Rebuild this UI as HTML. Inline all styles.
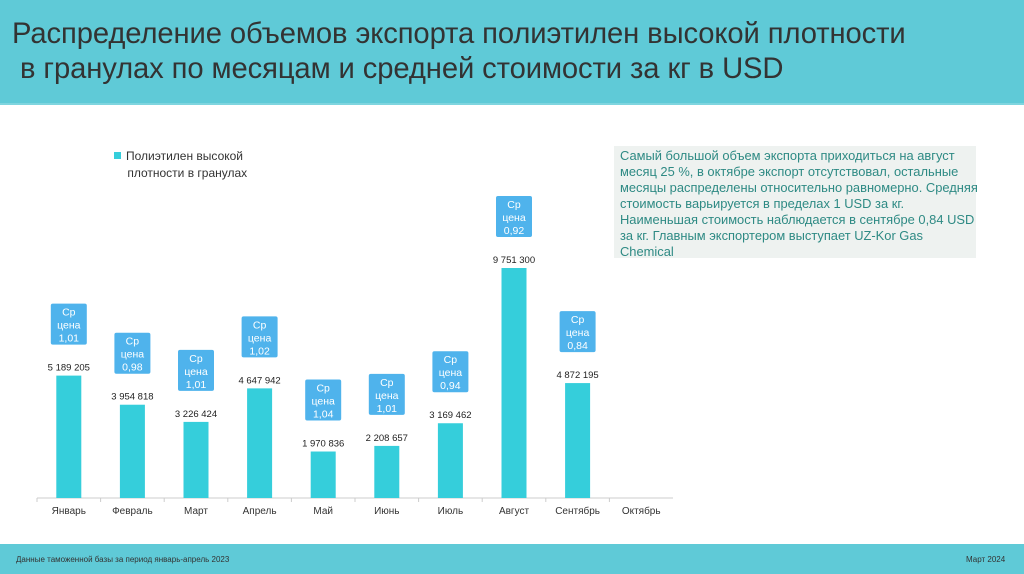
<!DOCTYPE html>
<html><head><meta charset="utf-8"><style>
body{margin:0;width:1024px;height:574px;position:relative;background:#fff;font-family:"Liberation Sans",sans-serif;overflow:hidden}
#hdr{position:absolute;left:0;top:0;width:1024px;height:103px;background:#5fcad7;border-bottom:2px solid #7fd5df}
#title{position:absolute;left:12px;top:17px;font-size:29.2px;line-height:35px;color:#333;letter-spacing:-0.1px}
#ftr{position:absolute;left:0;top:544px;width:1024px;height:30px;background:#5fcad7}
.ft{position:absolute;top:11px;font-size:8px;color:#333}
#notebg{position:absolute;left:614px;top:146px;width:362px;height:112px;background:#eef2f0}
#note{position:absolute;left:620px;top:148px;white-space:nowrap;color:#2e8a84;font-size:12.9px;line-height:16px}
#legend{position:absolute;left:114px;top:148px;font-size:12px;line-height:17px;color:#333}
#legend span{display:inline-block;width:7px;height:7px;background:#35cedb;margin-right:5px;vertical-align:1px}
</style></head><body>
<div id="hdr"><div id="title">Распределение объемов экспорта полиэтилен высокой плотности<br>&nbsp;в гранулах по месяцам и средней стоимости за кг в USD</div></div>
<div id="legend"><span></span>Полиэтилен высокой<br>&nbsp;&nbsp;&nbsp;&nbsp;плотности в гранулах</div>
<div id="notebg"></div>
<div id="note">Самый большой объем экспорта приходиться на август<br>месяц 25 %, в октябре экспорт отсутствовал, остальные<br>месяцы распределены относительно равномерно. Средняя<br>стоимость варьируется в пределах 1 USD за кг.<br>Наименьшая стоимость наблюдается в сентябре 0,84 USD<br>за кг. Главным экспортером выступает UZ-Kor Gas<br>Chemical</div>
<svg id="chart" width="1024" height="574" style="position:absolute;left:0;top:0"></svg>
<div id="ftr"><div class="ft" style="left:16px">Данные таможенной базы за период январь-апрель 2023</div><div class="ft" style="left:966px">Март 2024</div></div>
<script>
const categories=["Январь","Февраль","Март","Апрель","Май","Июнь","Июль","Август","Сентябрь","Октябрь"];
const volumes=[5189205,3954818,3226424,4647942,1970836,2208657,3169462,9751300,4872195,0];
const valueLabels=["5 189 205","3 954 818","3 226 424","4 647 942","1 970 836","2 208 657","3 169 462","9 751 300","4 872 195",""];
const prices=["1,01","0,98","1,01","1,02","1,04","1,01","0,94","0,92","0,84",""];
const svg=document.getElementById('chart');const NS='http://www.w3.org/2000/svg';
const x0=37,x1=673,base=498,scale=230/9751300;
const bw=(x1-x0)/categories.length;
const xc=i=>x0+bw*(i+0.5);const y=v=>base-v*scale;
function mk(t,a){const e=document.createElementNS(NS,t);for(const k in a)e.setAttribute(k,a[k]);svg.appendChild(e);return e;}
const ax=mk('line',{x1:x0,x2:x1,y1:base,y2:base,stroke:'#ccc'});


categories.forEach((c,i)=>{
 const tk=mk('line',{x1:x0+bw*i,x2:x0+bw*i,y1:base,y2:base+4,stroke:'#ccc'});
 
 
 const t=mk('text',{x:xc(i),y:base+16,'font-size':10,'text-anchor':'middle',fill:'#333'});t.textContent=c;
 
 
 if(!volumes[i])return;
 const top=y(volumes[i]);
 const b=mk('rect',{x:xc(i)-12.5,y:top,width:25,height:base-top,fill:'#35cedb'});
 
 
 const v=mk('text',{x:xc(i),y:top-5,'font-size':9.5,'text-anchor':'middle',fill:'#222'});v.textContent=valueLabels[i];
 
 
 const by=top-72;
 const r=mk('rect',{x:xc(i)-18,y:by,width:36,height:41,rx:2,fill:'#4fb3ec'});
 
 
 ['Ср','цена',prices[i]].forEach((s,k)=>{const t2=mk('text',{x:xc(i),y:by+12+k*13,'font-size':10.5,'text-anchor':'middle',fill:'#fff'});t2.textContent=s;
  
  });
});
</script>
</body></html>
